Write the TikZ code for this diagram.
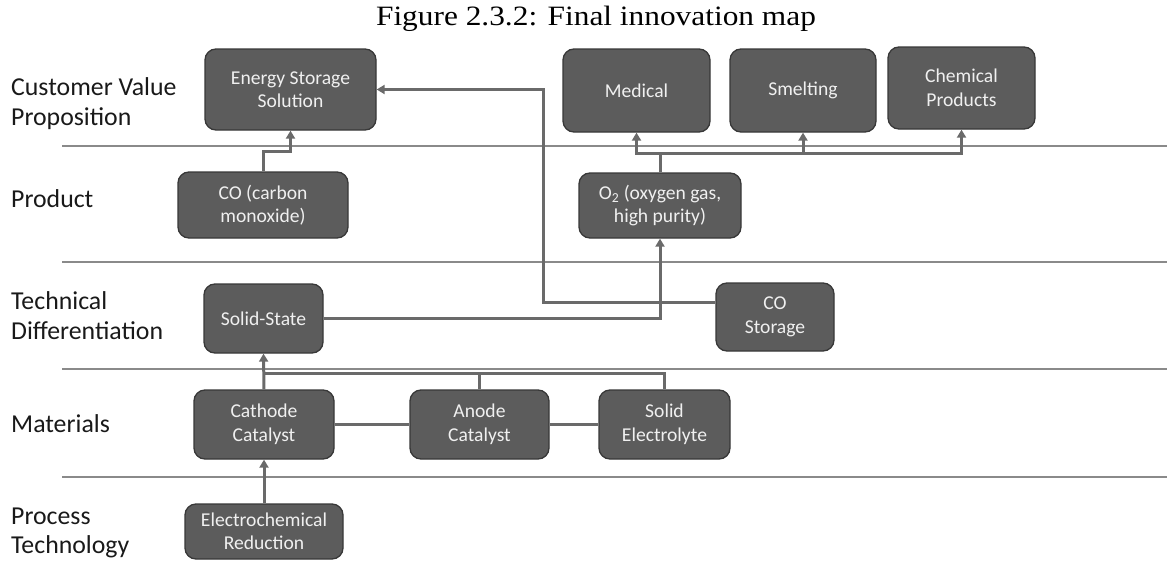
\documentclass[tikz,border=0pt]{standalone}
\usepackage{fontspec}
\setmainfont{Carlito}
\newfontfamily\mapsans{Carlito}
\newfontfamily\maptitle[FakeStretch=1.12]{Liberation Serif}
\usetikzlibrary{arrows.meta,calc}
\definecolor{boxfill}{HTML}{5C5C5C}
\definecolor{boxline}{HTML}{383838}
\definecolor{boxtext}{HTML}{F0F0F0}
\definecolor{conngray}{HTML}{6A6A6A}
\definecolor{sepgray}{HTML}{8A8A8A}
\begin{document}
\begin{tikzpicture}[x=1pt,y=-1pt,
  mapbox/.style={draw=boxline, fill=boxfill, line width=1.3pt, rounded corners=11pt,
    text=boxtext, align=center, inner sep=0pt,
    font=\mapsans\fontsize{19.6}{23.5}\selectfont},
  rowlabel/.style={anchor=base west, inner sep=0pt, text=black!90,
    font=\mapsans\fontsize{25.8}{30}\selectfont},
  conn/.style={draw=conngray, line width=3pt},
  arr/.style={conn, -{Triangle[length=8pt,width=9pt]}},
  sepline/.style={draw=sepgray, line width=1.8pt}]
\useasboundingbox (0,0) rectangle (1167,562);
% title
\node[anchor=base, inner sep=0pt, font=\maptitle\fontsize{28}{32}\selectfont] (title) at (596,25) {Figure 2.3.2: Final innovation map};
% separators
\draw[sepline] (62,146) -- (1167,146);
\draw[sepline] (62,262) -- (1167,262);
\draw[sepline] (62,369) -- (1167,369);
\draw[sepline] (62,477) -- (1167,477);
% row labels
\node[rowlabel] (l1a) at (11,95) {Customer Value};
\node[rowlabel] (l1b) at (11,125) {Proposition};
\node[rowlabel] (l2) at (11,207) {Product};
\node[rowlabel] (l3a) at (11,309) {Technical};
\node[rowlabel] (l3b) at (11,339) {Differentiation};
\node[rowlabel] (l4) at (11,432) {Materials};
\node[rowlabel] (l5a) at (11,524) {Process};
\node[rowlabel] (l5b) at (11,553) {Technology};
% boxes
\node[mapbox, minimum width=171pt, minimum height=81pt] (ess) at (290.5,89.5) {Energy Storage\\Solution};
\node[mapbox, minimum width=147pt, minimum height=83pt] (med) at (636.5,90.5) {Medical};
\node[mapbox, minimum width=146pt, minimum height=83pt] (smelt) at (803,90.5) {Smelting};
\node[mapbox, minimum width=147pt, minimum height=82pt] (chem) at (961.5,88) {Chemical\\Products};
\node[mapbox, minimum width=170pt, minimum height=66pt] (co) at (263,205) {CO (carbon\\monoxide)};
\node[mapbox, minimum width=162pt, minimum height=65pt] (o2) at (660,205.5) {O\textsubscript{2} (oxygen gas,\\high purity)};
\node[mapbox, minimum width=119pt, minimum height=69pt] (ss) at (263.5,318.5) {Solid-State};
\node[mapbox, minimum width=118pt, minimum height=68pt] (cos) at (775,317) {CO\\Storage};
\node[mapbox, minimum width=140pt, minimum height=69pt] (cat) at (264,424.5) {Cathode\\Catalyst};
\node[mapbox, minimum width=139pt, minimum height=69pt] (ano) at (479.5,424.5) {Anode\\Catalyst};
\node[mapbox, minimum width=131pt, minimum height=69pt] (se) at (664.5,424.5) {Solid\\Electrolyte};
\node[mapbox, minimum width=158pt, minimum height=55pt] (er) at (264,531.5) {Electrochemical\\Reduction};
% connectors
\coordinate (mbus) at (264,373);
\draw[conn] (se.north) |- (mbus);
\draw[conn] (ano.north) |- (mbus);
\draw[conn] (cat.east) -- (ano.west);
\draw[conn] (ano.east) -- (se.west);
\draw[arr] (cat.north) -- (ss.south);
\draw[arr] (er.north) -- (cat.south);
\draw[arr] (co.north) -- ++(0,-20) -| (ess.south);
\draw[arr] (ss.east) -| (o2.south);
\draw[arr] ($(cos.west)+(0,-15)$) -- ++(-172,0) |- (ess.east);
\draw[arr] (o2.north) -- ++(0,-19) -| (med.south);
\draw[arr] (o2.north) -- ++(0,-19) -| (smelt.south);
\draw[arr] (o2.north) -- ++(0,-19) -| (chem.south);
\end{tikzpicture}
\end{document}
